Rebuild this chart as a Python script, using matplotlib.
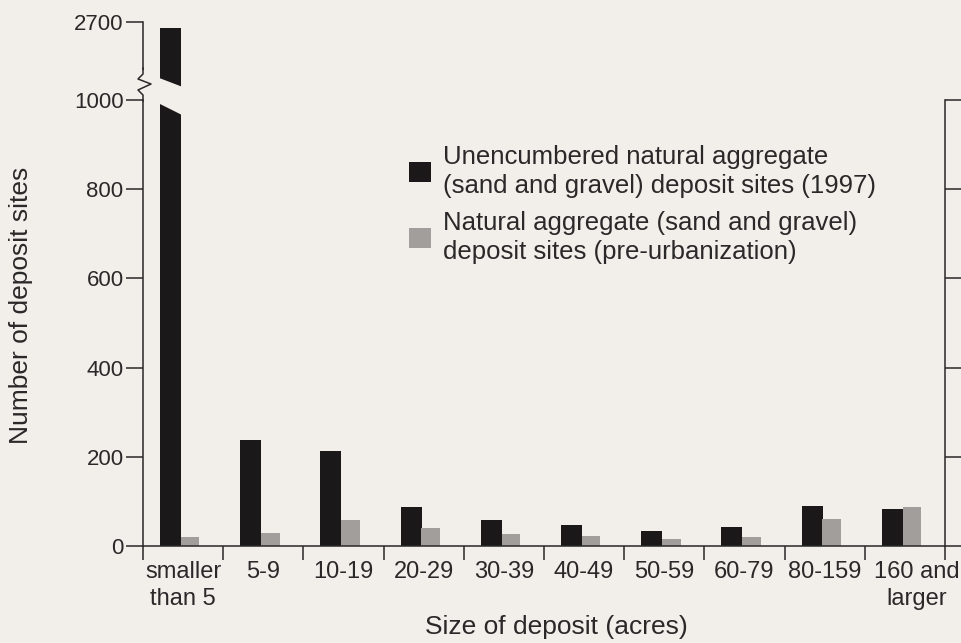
import matplotlib.pyplot as plt
import matplotlib.transforms as mtransforms
from matplotlib.patches import Polygon, Patch
from matplotlib.lines import Line2D
import numpy as np

plt.rcParams["font.family"] = ["Liberation Sans", "DejaVu Sans"]

categories = ["smaller\nthan 5", "5-9", "10-19", "20-29", "30-39", "40-49",
              "50-59", "60-79", "80-159", "160 and\nlarger"]
unencumbered_1997 = [2650, 237, 213, 88, 58, 47, 34, 43, 90, 82]
pre_urbanization = [20, 30, 58, 40, 26, 22, 16, 20, 60, 88]

BG = "#f2efeb"
BLACK = "#1b1819"
GRAY = "#a19e9c"
INK = "#2a2828"

W, H = 962, 643
fig = plt.figure(figsize=(W / 100, H / 100), dpi=100, facecolor=BG)


def px_box(left, top, right, bottom):
    return [left / W, 1 - bottom / H, (right - left) / W, (bottom - top) / H]


ax = fig.add_axes(px_box(143, 80, 945, 546))
ax_top = fig.add_axes(px_box(143, 22, 945, 85))
for a in (ax, ax_top):
    a.set_facecolor("none")

x = np.arange(len(categories))
bw_black, bw_gray = 0.26, 0.23
off_black, off_gray = -0.157, 0.087

for a in (ax, ax_top):
    a.bar(x + off_black, unencumbered_1997, bw_black, color=BLACK, zorder=2)
    a.bar(x + off_gray, pre_urbanization, bw_gray, color=GRAY, zorder=2)
    a.set_xlim(-0.5, len(categories) - 0.5)

# lower (main) axis
ax.set_ylim(0, 1045)
ax.set_yticks([0, 200, 400, 600, 800, 1000])
ax.spines["top"].set_visible(False)
ax.spines["left"].set_bounds(0, 1000)
ax.spines["right"].set_bounds(0, 1000)
ax.tick_params(axis="y", which="both", direction="out", length=12, width=1.1,
               color=INK, labelcolor=INK, labelsize=16, right=True, pad=2)
ax.set_xticks(x)
ax.set_xticklabels(categories, fontsize=17, color=INK, linespacing=1.25)
ax.set_xticks(np.arange(-0.5, len(categories)), minor=True)
ax.tick_params(axis="x", which="major", length=0, pad=11)
ax.tick_params(axis="x", which="minor", length=10, width=1.1, color=INK, direction="out")
last = ax.get_xticklabels()[-1]
last.set_transform(last.get_transform() +
                   mtransforms.ScaledTranslation(0.12, 0, fig.dpi_scale_trans))
for s in ("left", "right", "bottom"):
    ax.spines[s].set_color(INK)
    ax.spines[s].set_linewidth(1.1)
ax.set_xlabel("Size of deposit (acres)", fontsize=19, color=INK)
ax.xaxis.set_label_coords(0.516, -0.148)
ax.set_ylabel("Number of deposit sites", fontsize=19, color=INK)
ax.yaxis.set_label_coords(-0.137, 0.516)

# upper (broken) axis piece
ax_top.set_ylim(2175, 2700)
ax_top.set_yticks([2700])
ax_top.set_xticks([])
for s in ("top", "right", "bottom"):
    ax_top.spines[s].set_visible(False)
ax_top.spines["left"].set_bounds(2300, 2700)
ax_top.spines["left"].set_color(INK)
ax_top.spines["left"].set_linewidth(1.1)
ax_top.tick_params(axis="y", direction="out", length=12, width=1.1, color=INK,
                   labelcolor=INK, labelsize=16, pad=2)

# break marks: slanted gap through the tall bar and zigzag on the spine
to_fig = lambda pts: [(px / W, 1 - py / H) for px, py in pts]
fig.add_artist(Polygon(to_fig([(154, 76), (188, 89), (188, 118), (154, 101)]),
                       closed=True, facecolor=BG, edgecolor="none",
                       transform=fig.transFigure, zorder=5))
fig.add_artist(Polygon(to_fig([(136, 70), (150, 70), (150, 99), (136, 99)]),
                       closed=True, facecolor=BG, edgecolor="none",
                       transform=fig.transFigure, zorder=5))
zz = to_fig([(143, 68), (143, 74), (138, 79), (151, 84), (138, 90), (143, 95), (143, 101)])
fig.add_artist(Line2D([p[0] for p in zz], [p[1] for p in zz], color=INK, lw=1.1,
                      transform=fig.transFigure, zorder=6))

handles = [Patch(facecolor=BLACK, edgecolor="none"),
           Patch(facecolor=GRAY, edgecolor="none")]
labels = ["Unencumbered natural aggregate\n(sand and gravel) deposit sites (1997)",
          "Natural aggregate (sand and gravel)\ndeposit sites (pre-urbanization)"]
leg = ax.legend(handles, labels, loc="upper left", bbox_to_anchor=(0.332, 0.86),
                frameon=False, fontsize=18.5, handlelength=0.85, handleheight=0.85,
                handletextpad=0.45, labelspacing=0.5, borderaxespad=0, borderpad=0)
for t in leg.get_texts():
    t.set_color(INK)
    t.set_linespacing(1.25)

fig.savefig("out.png", dpi=100, facecolor=BG)
